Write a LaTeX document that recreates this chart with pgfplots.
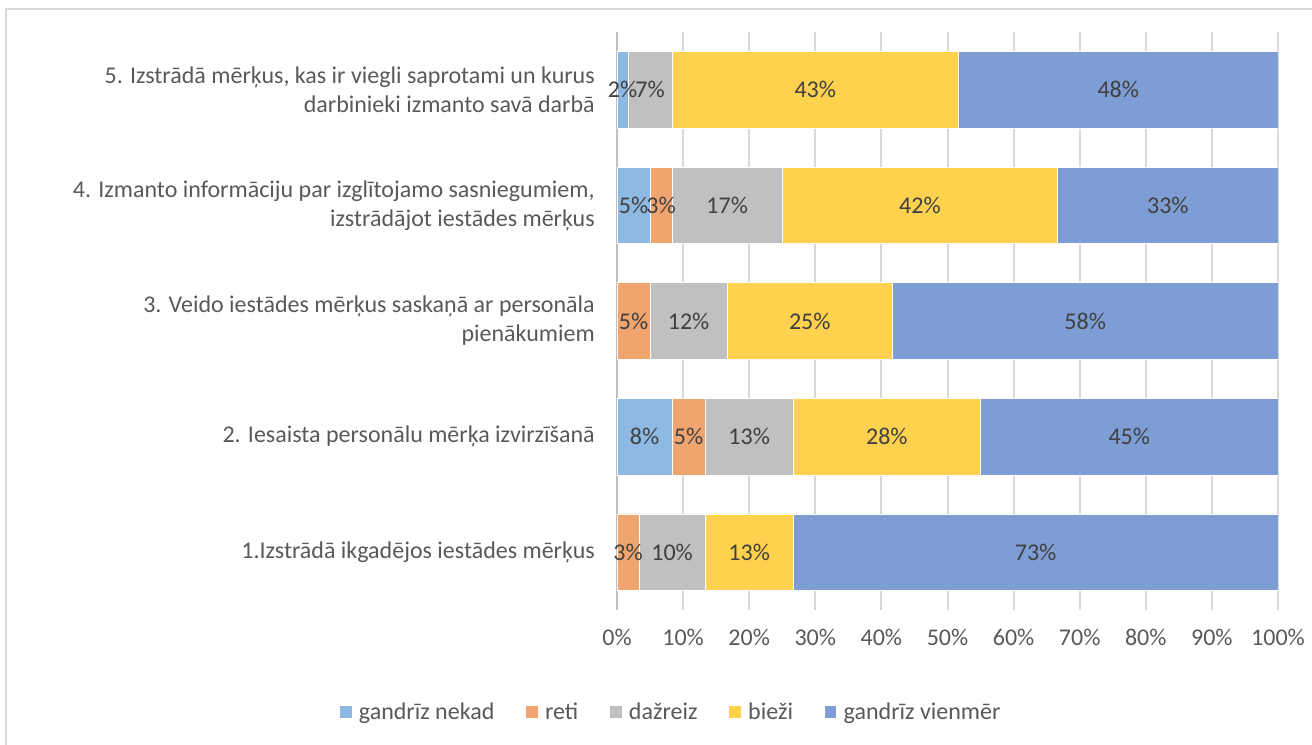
\documentclass[border=0pt]{standalone}
\usepackage{pgfplots}
\pgfplotsset{compat=1.18}
\usepackage{fontspec}
\setmainfont{Carlito}
\definecolor{cNekad}{HTML}{8DB9E2}
\definecolor{cReti}{HTML}{F1A56E}
\definecolor{cDaz}{HTML}{C0C0C0}
\definecolor{cBiezi}{HTML}{FED24E}
\definecolor{cVien}{HTML}{7D9DD4}
\definecolor{cText}{HTML}{595959}
\definecolor{cLab}{HTML}{404040}
\definecolor{cGrid}{HTML}{D9D9D9}
\definecolor{cBorder}{HTML}{D9D9D9}
\begin{document}
\begin{tikzpicture}
\path[use as bounding box] (-462.75pt,-101.25pt) rectangle (521.25pt,457.5pt);
\draw[color=cBorder, line width=1.5pt] (-457.9pt,-120pt) -- (-457.9pt,450.4pt) -- (540pt,450.4pt);
\begin{axis}[
  at={(0pt,0pt)}, anchor=south west,
  scale only axis, width=495.75pt, height=433.5pt,
  xbar stacked, bar width=57.5pt,
  xmin=0, xmax=100, ymin=0.5, ymax=5.5,
  xtick={0,10,...,100}, ytick={1,2,3,4,5},
  yticklabels={{1.Izstrādā ikgadējos iestādes mērķus},
    {2. Iesaista personālu mērķa izvirzīšanā},
    {3. Veido iestādes mērķus saskaņā ar personāla\\pienākumiem},
    {4. Izmanto informāciju par izglītojamo sasniegumiem,\\izstrādājot iestādes mērķus},
    {5. Izstrādā mērķus, kas ir viegli saprotami un kurus\\darbinieki izmanto savā darbā}},
  xticklabel={\pgfmathprintnumber{\tick}\%},
  /pgf/number format/assume math mode=true,
  axis lines*=left,
  x axis line style={draw=none},
  y axis line style={draw=cDaz, line width=1.5pt},
  major tick length=0pt,
  xmajorgrids, grid style={cGrid, line width=1.5pt},
  yticklabel style={font=\fontsize{18}{21.75}\selectfont, text=cText, align=right, inner sep=0pt, xshift=-16.5pt},
  xticklabel style={font=\fontsize{18}{21.75}\selectfont, text=cText, anchor=base, inner sep=0pt, yshift=-26.6pt},
  point meta=explicit symbolic,
  nodes near coords={\pgfplotspointmeta},
  every node near coord/.append style={font=\fontsize{18}{20}\selectfont, text=cLab},
  legend style={at={(axis description cs:0.0817,-0.1765)}, anchor=center, legend columns=-1, draw=none,
    font=\fontsize{18}{20}\selectfont, text=cText,
    /tikz/every odd column/.append style={column sep=3pt},
    /tikz/every even column/.append style={column sep=21pt}},
  legend cell align=left,
  legend image code/.code={\fill[#1] (0pt,-4.8pt) rectangle (9.6pt,4.8pt);},
  every axis plot/.append style={draw=white, line width=0.4pt},
]
\addplot[fill=cNekad] coordinates {(0,1) [] (8.333,2) [8\%] (0,3) [] (5,4) [5\%] (1.667,5) [2\%]};
\addplot[fill=cReti] coordinates {(3.333,1) [3\%] (5,2) [5\%] (5,3) [5\%] (3.333,4) [3\%] (0,5) []};
\addplot[fill=cDaz] coordinates {(10,1) [10\%] (13.333,2) [13\%] (11.667,3) [12\%] (16.667,4) [17\%] (6.667,5) [7\%]};
\addplot[fill=cBiezi] coordinates {(13.333,1) [13\%] (28.333,2) [28\%] (25,3) [25\%] (41.667,4) [42\%] (43.333,5) [43\%]};
\addplot[fill=cVien] coordinates {(73.333,1) [73\%] (45,2) [45\%] (58.333,3) [58\%] (33.333,4) [33\%] (48.333,5) [48\%]};
\legend{gandrīz nekad, reti, dažreiz, bieži, gandrīz vienmēr}
\end{axis}
\end{tikzpicture}
\end{document}
